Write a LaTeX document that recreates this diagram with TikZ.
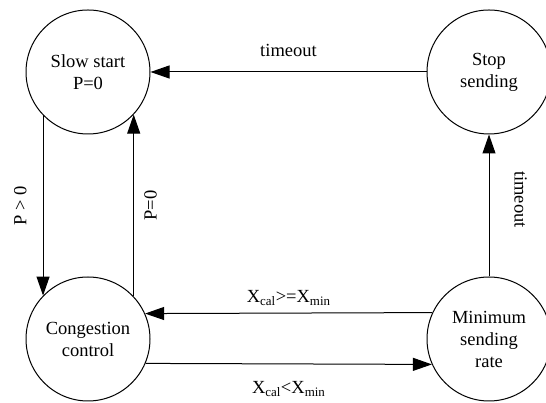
\documentclass[tikz,border=0pt]{standalone}
\usepackage{fontspec}
\setmainfont{Liberation Serif}
\usetikzlibrary{arrows.meta}
\begin{document}
\begin{tikzpicture}[x=1pt,y=1pt,
  state/.style={circle,draw,line width=1pt,minimum size=124pt,inner sep=0pt,align=center,font=\fontsize{18.5}{22}\selectfont},
  conn/.style={line width=1pt,-{Triangle[length=19pt,width=13pt]}},
  lbl/.style={font=\fontsize{18.5}{22}\selectfont,inner sep=0pt}]
\useasboundingbox (0,0) rectangle (546,403);
\node[state] (ss) at (88,331) {Slow start\\P=0};
\node[state] (st) at (489,331) {Stop\\sending};
\node[state] (cc) at (88,64) {Congestion\\control};
\node[state] (mn) at (489,64) {Minimum\\sending\\rate};
\draw[conn] (st.west) -- node[lbl,above=15pt] {timeout} (ss.east);
\draw[conn] (ss.-136.6) -- node[lbl,rotate=90,above=16pt] {P > 0} (cc.136.6);
\draw[conn] (cc.43.4) -- node[lbl,rotate=90,below=10pt] {P=0} (ss.-43.4);
\draw[conn] (mn.north) -- node[lbl,rotate=-90,above=25pt,xshift=-6pt] {timeout} (st.south);
\draw[conn] (mn.155.2) -- node[lbl,above=7pt] {X\textsubscript{cal}>=X\textsubscript{min}} (cc.24.8);
\draw[conn] (cc.-23.8) -- node[lbl,below=17pt] {X\textsubscript{cal}<X\textsubscript{min}} (mn.-156.2);
\end{tikzpicture}
\end{document}
